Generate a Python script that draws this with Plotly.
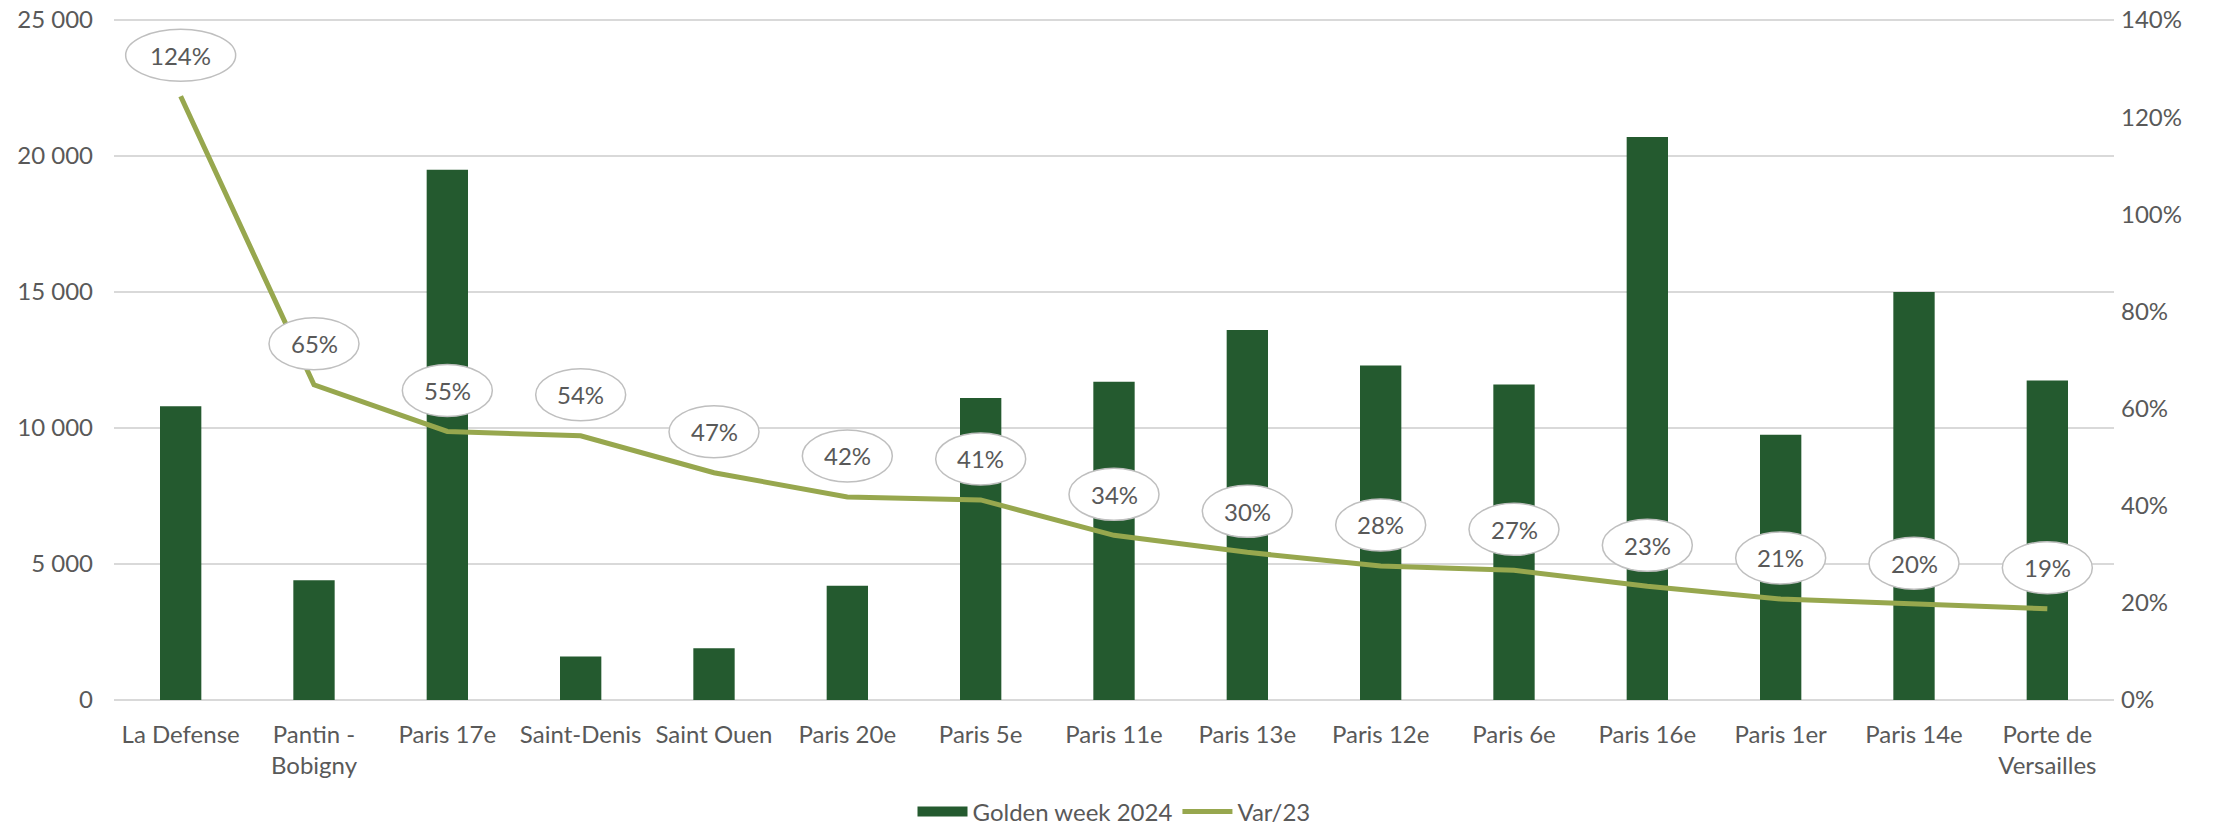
import plotly.graph_objects as go

# data
sites = ["La Defense", "Pantin -<br>Bobigny", "Paris 17e", "Saint-Denis", "Saint Ouen",
         "Paris 20e", "Paris 5e", "Paris 11e", "Paris 13e", "Paris 12e", "Paris 6e",
         "Paris 16e", "Paris 1er", "Paris 14e", "Porte de<br>Versailles"]
golden_week_2024 = [10800, 4400, 19500, 1600, 1900, 4200, 11100, 11700, 13600,
                    12300, 11600, 20700, 9750, 15000, 11750]
var_23 = [1.243, 0.649, 0.553, 0.544, 0.468, 0.418, 0.412, 0.339, 0.304,
          0.276, 0.267, 0.234, 0.208, 0.197, 0.188]

BAR_COLOR = "#245A2F"
LINE_COLOR = "#97A74E"
TEXT_COLOR = "#595959"
GRID_COLOR = "#D9D9D9"
FONT = "Lato"
FS = 24

fig = go.Figure()

fig.add_trace(go.Bar(
    x=sites, y=golden_week_2024, name="Golden week 2024",
    marker=dict(color=BAR_COLOR, line=dict(width=0)),
    yaxis="y", showlegend=False,
))

fig.add_trace(go.Scatter(
    x=sites, y=var_23, name="Var/23", mode="lines",
    line=dict(color=LINE_COLOR, width=5),
    yaxis="y2", showlegend=False,
))

# legend entries with wide swatches like the original
fig.add_trace(go.Scatter(
    x=[None], y=[None], name="Golden week 2024", mode="lines",
    line=dict(color=BAR_COLOR, width=13),
))
fig.add_trace(go.Scatter(
    x=[None], y=[None], name="Var/23", mode="lines",
    line=dict(color=LINE_COLOR, width=5),
))

# ellipse callouts for the line labels
for site, v in zip(sites, var_23):
    label = f"{round(v * 100)}%"
    half_w = 55 if len(label) > 3 else 45
    fig.add_shape(
        type="circle", xref="x", yref="y2",
        xsizemode="pixel", ysizemode="pixel",
        xanchor=site, yanchor=v,
        x0=-half_w, x1=half_w, y0=15, y1=67,
        line=dict(color="#BFBFBF", width=1.5),
        fillcolor="white", layer="above",
    )
    fig.add_annotation(
        x=site, y=v, xref="x", yref="y2", text=label,
        showarrow=False, yshift=41,
        font=dict(family=FONT, size=FS, color=TEXT_COLOR),
    )

# slightly above 25 000 so the top gridline is not dropped at the edge
pad = 1.003

fig.update_layout(
    width=2228, height=826,
    margin=dict(l=114, r=114, t=18, b=126, autoexpand=False),
    paper_bgcolor="white", plot_bgcolor="white",
    separators=", ",
    font=dict(family=FONT, size=FS, color=TEXT_COLOR),
    bargap=0.69,
    showlegend=True,
    legend=dict(
        orientation="h", x=0.5, xanchor="center",
        yref="container", y=0.017, yanchor="middle",
        font=dict(family=FONT, size=FS, color=TEXT_COLOR),
        itemwidth=50, traceorder="normal",
    ),
    xaxis=dict(
        type="category", showgrid=False, showline=False, ticks="",
        tickfont=dict(family=FONT, size=FS, color=TEXT_COLOR),
        ticklabelstandoff=18, automargin=False,
    ),
    yaxis=dict(
        range=[0, 25000 * pad], tick0=0, dtick=5000, tickformat=",d",
        showgrid=True, gridcolor=GRID_COLOR, gridwidth=2,
        zeroline=True, zerolinecolor=GRID_COLOR, zerolinewidth=2,
        showline=False, ticks="", automargin=False,
        ticklabeloverflow="allow",
        tickfont=dict(family=FONT, size=FS, color=TEXT_COLOR),
        ticklabelstandoff=20,
    ),
    yaxis2=dict(
        range=[0, 1.4 * pad], tick0=0, dtick=0.2, tickformat=".0%",
        overlaying="y", side="right",
        showgrid=False, zeroline=False, showline=False, ticks="",
        automargin=False, ticklabeloverflow="allow",
        tickfont=dict(family=FONT, size=FS, color=TEXT_COLOR),
        ticklabelstandoff=6,
    ),
)

# drop the default body margin so the figure fills the window exactly
fig.write_html("out.html", config={"displayModeBar": False},
               post_script="document.body.style.margin = '0';")
